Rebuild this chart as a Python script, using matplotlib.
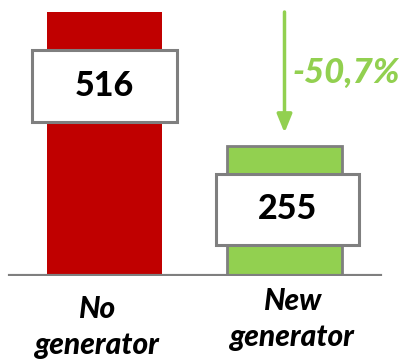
import matplotlib.pyplot as plt
from matplotlib.patches import Rectangle

categories = ["No\ngenerator", "New\ngenerator"]
values = [516, 255]
value_labels = ["516", "255"]
change_label = "-50,7%"

RED = "#C00000"
GREEN = "#92D050"
GRAY = "#7F7F7F"

fig = plt.figure(figsize=(4.07, 3.6), dpi=100)
# axes spans the whole width, baseline sits 84 px above the bottom edge
ax = fig.add_axes([0, 84 / 360, 1, 276 / 360])
ax.set_xlim(-0.5806, 1.6806)
ax.set_ylim(0, 516 * 276 / 264)
ax.axis("off")

x = [0, 1]
width = 0.639
ax.bar(x[0], values[0], width=width, color=RED, linewidth=0, zorder=2)
ax.bar(x[1], values[1], width=width, color=GREEN, edgecolor=GRAY, linewidth=2, zorder=2)

# baseline
ax.axhline(0, xmin=10 / 407, xmax=380 / 407, color=GRAY, linewidth=3, zorder=3)

# value boxes on top of the bars
box_w = [0.806, 0.794]
box_h = 140
box_cy = [371, 130]
box_cx = [0, 1.017]
for cx, cy, w, txt in zip(box_cx, box_cy, box_w, value_labels):
    ax.add_patch(Rectangle((cx - w / 2, cy - box_h / 2), w, box_h,
                           facecolor="white", edgecolor=GRAY, linewidth=2.2, zorder=4))
    ax.text(cx, cy, txt, ha="center", va="center", fontsize=24.5,
            fontweight="black", family="Lato", color="black", zorder=5)

# drop arrow between the two bars
ax.annotate("", xy=(x[1], 280), xytext=(x[1], values[0]),
            arrowprops=dict(arrowstyle="-|>,head_length=1.1,head_width=0.45",
                            color=GREEN, linewidth=2.5, shrinkA=0, shrinkB=0))
ax.text(x[1] + 0.045, 397, change_label, ha="left", va="center", fontsize=25,
        fontweight="black", fontstyle="italic", family="Lato", color=GREEN)

# category labels below the baseline
label_dx = [-5, 6]
label_dy = [-14, -8]
for xi, lab, dx, dy in zip(x, categories, label_dx, label_dy):
    ax.annotate(lab, xy=(xi, 0), xytext=(dx, dy), textcoords="offset points",
                ha="center", va="top", fontsize=21.5, fontweight="black",
                fontstyle="italic", family="Lato", linespacing=1.33,
                annotation_clip=False)

fig.savefig("out.png", dpi=100)
